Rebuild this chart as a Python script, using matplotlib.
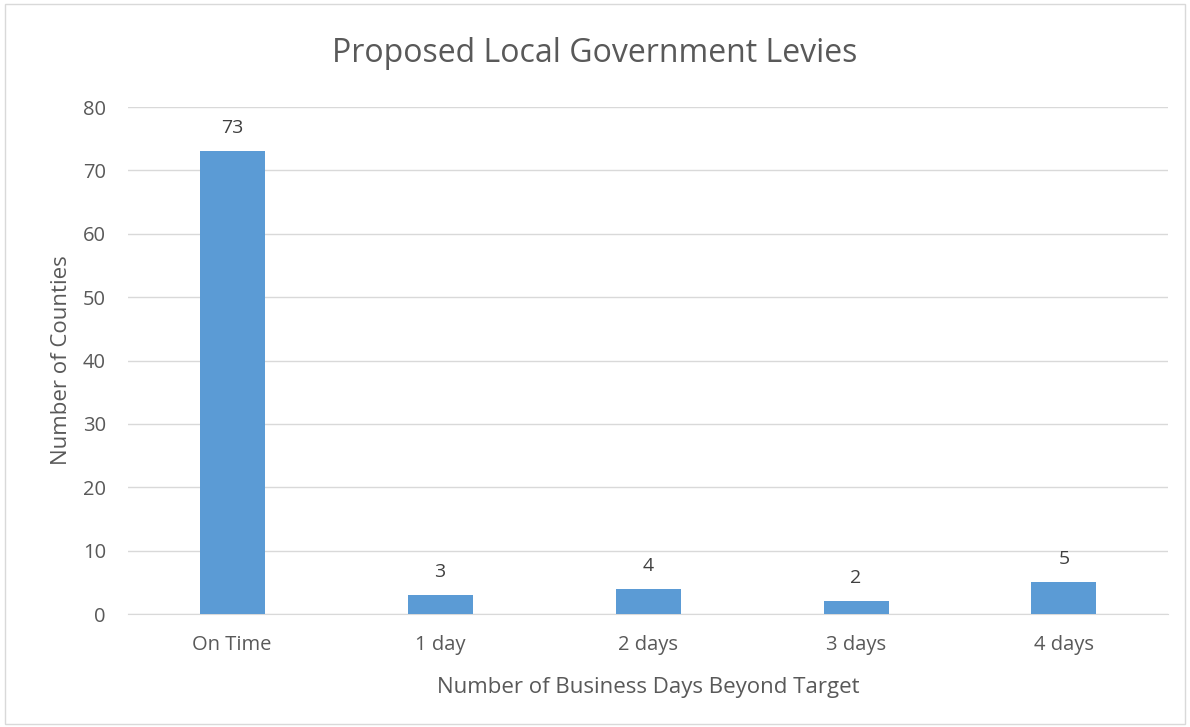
import matplotlib
matplotlib.use("Agg")
import matplotlib.pyplot as plt
from matplotlib.patches import Rectangle

categories = ["On Time", "1 day", "2 days", "3 days", "4 days"]
values = [73, 3, 4, 2, 5]
yticks = [0, 10, 20, 30, 40, 50, 60, 70, 80]

plt.rcParams['font.family'] = ['Open Sans', 'DejaVu Sans']
txt = '#595959'

fig = plt.figure(figsize=(11.9, 7.27), dpi=100)
ax = fig.add_axes([0.1076, 0.1554, 0.8739, 0.6974])
x = list(range(len(categories)))
bars = ax.bar(x, values, width=0.3125, color='#5B9BD5', zorder=3)
for xi, v in zip(x, values):
    ax.annotate(str(v), (xi, v), xytext=(0, 10), textcoords='offset points',
                ha='center', va='bottom', fontsize=14, color='#404040')
ax.set_xlim(-0.5, len(categories) - 0.5)
ax.set_ylim(0, 80)
ax.set_yticks(yticks)
ax.set_xticks(x)
ax.set_xticklabels(categories)
ax.tick_params(axis='both', length=0, labelsize=14.5, colors=txt)
ax.tick_params(axis='x', pad=15)
ax.tick_params(axis='y', pad=16)
ax.grid(axis='y', color='#D9D9D9', linewidth=1, zorder=0)
for s in ['top', 'right', 'left']:
    ax.spines[s].set_visible(False)
ax.spines['bottom'].set_color('#D9D9D9')
ax.set_xlabel('Number of Business Days Beyond Target', fontsize=16, color=txt, labelpad=16)
ax.set_ylabel('Number of Counties', fontsize=16, color=txt, labelpad=8)
fig.text(0.5, 0.926, 'Proposed Local Government Levies', ha='center', va='center',
         fontsize=23, color=txt)
fig.patches.append(Rectangle((0.004, 0.004), 0.992, 0.99, transform=fig.transFigure,
                             fill=False, edgecolor='#D9D9D9', linewidth=1))
fig.savefig('out.png', dpi=100)
